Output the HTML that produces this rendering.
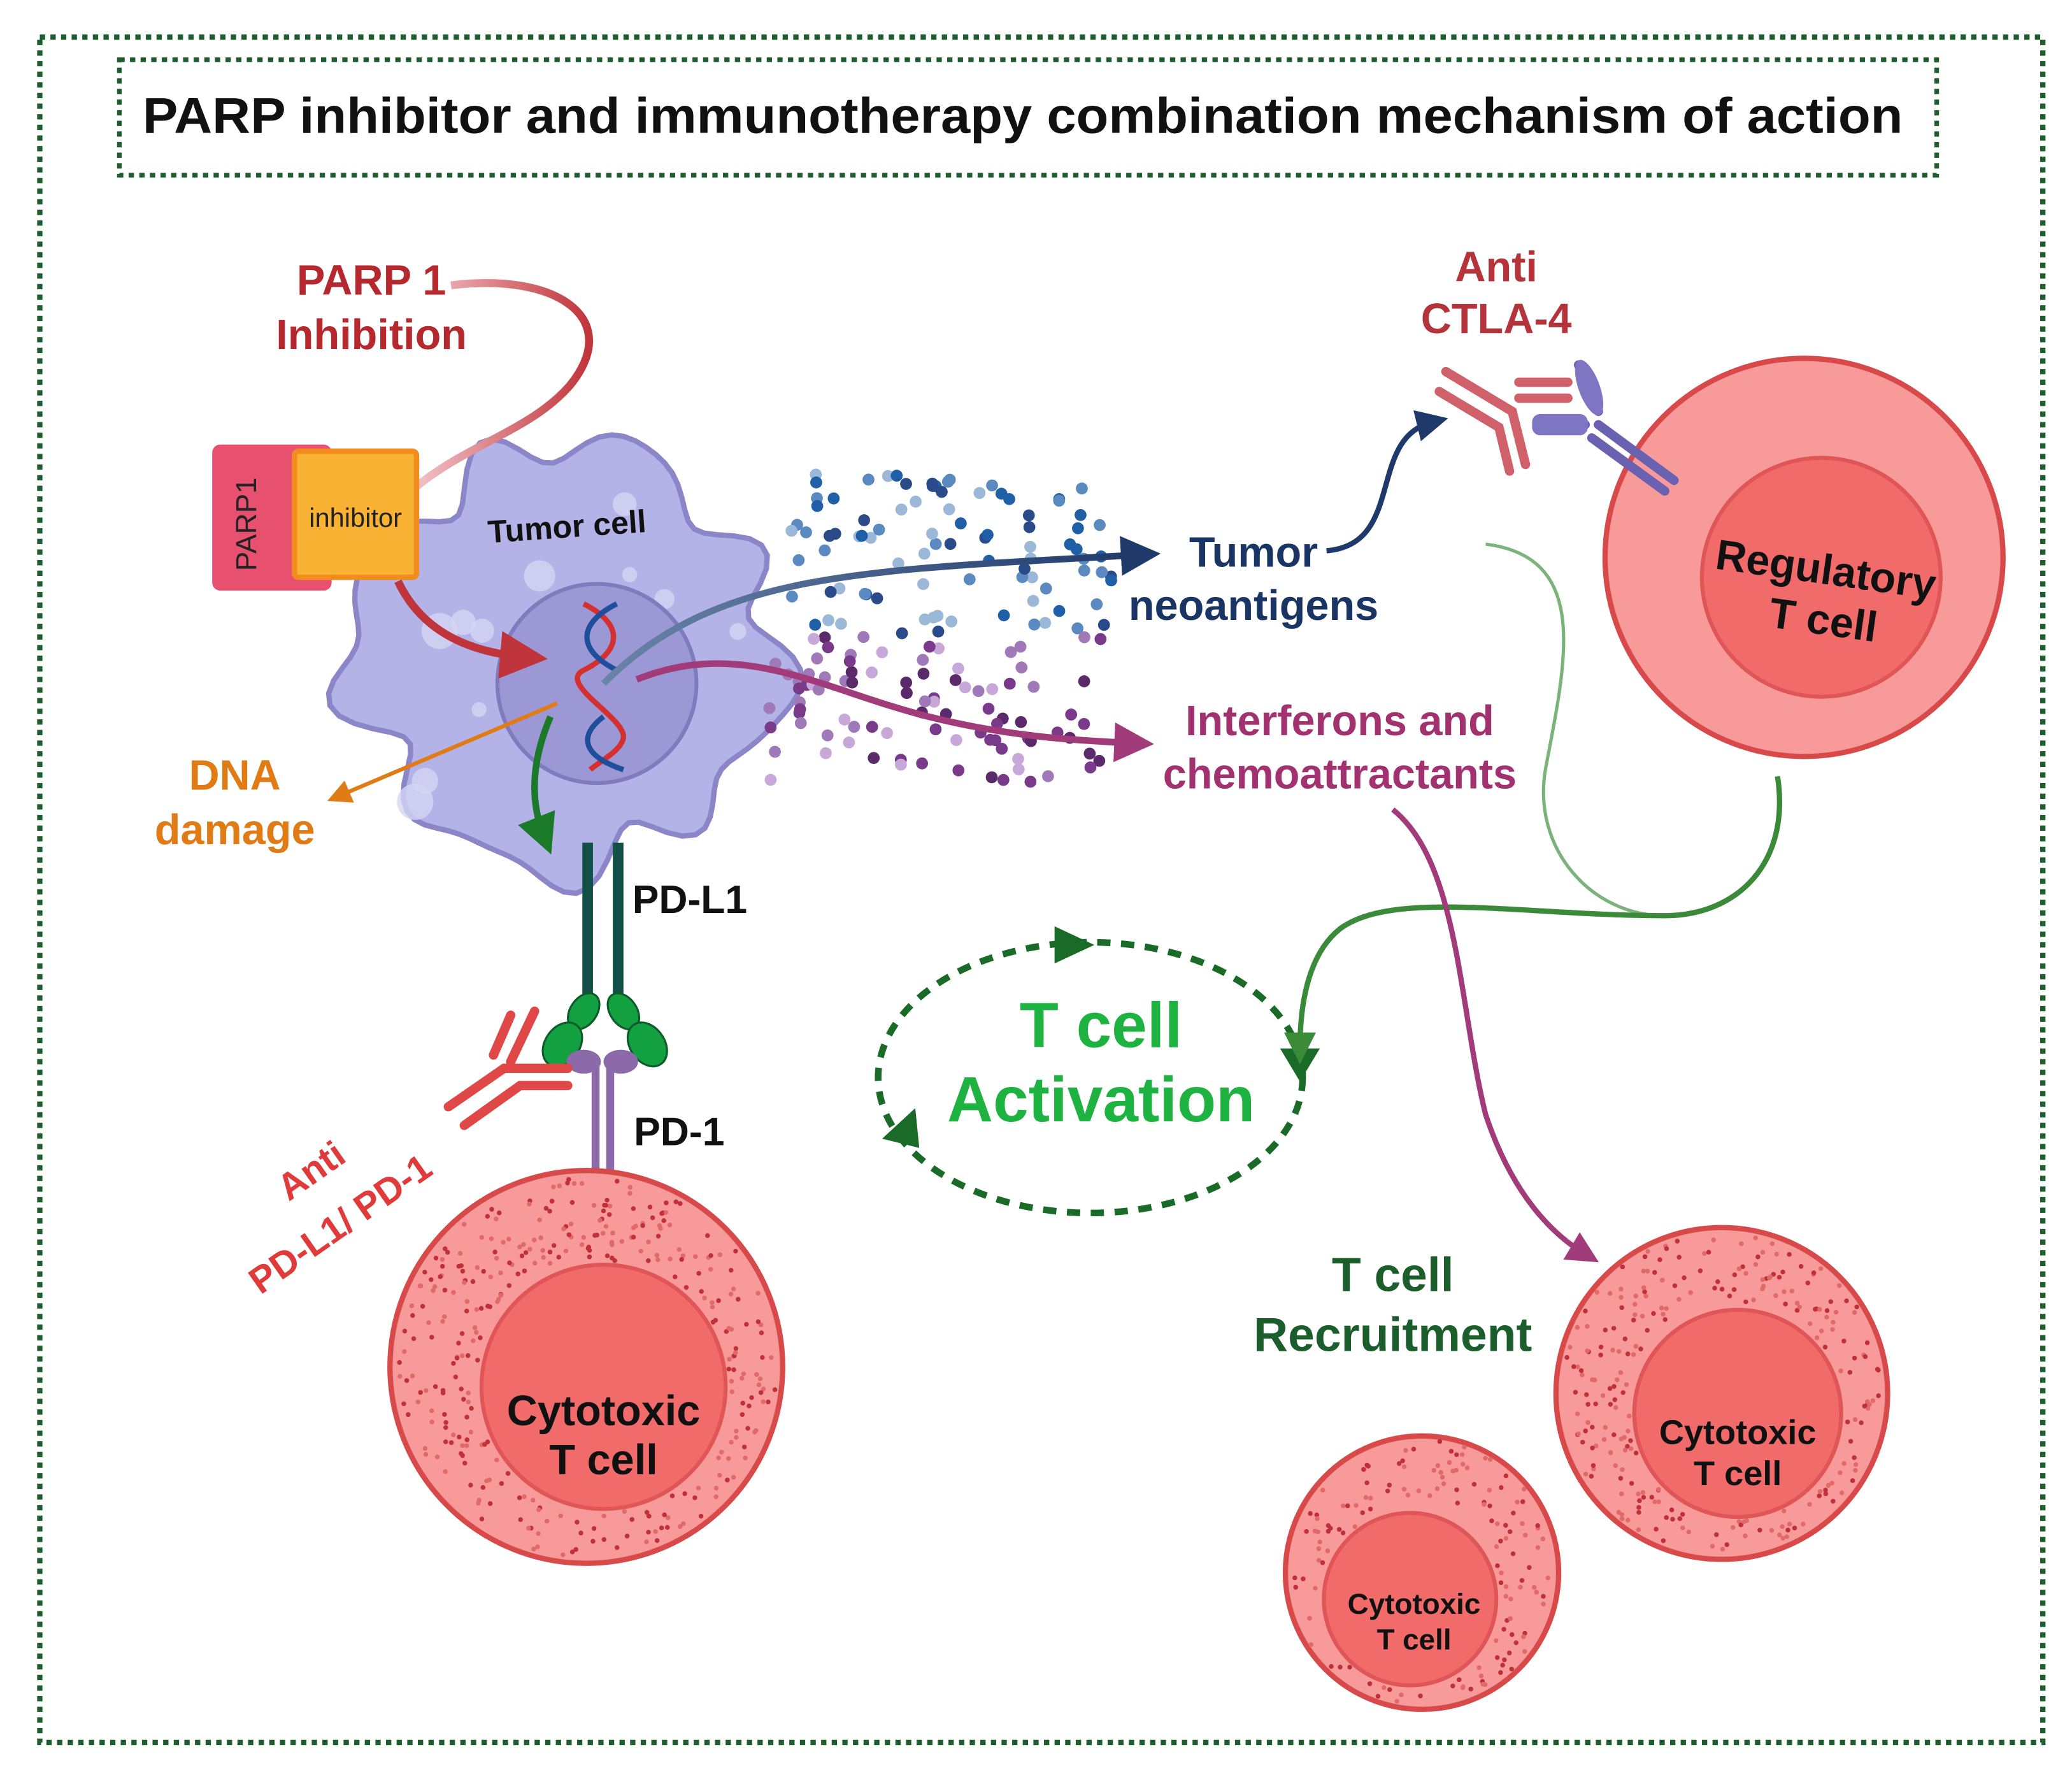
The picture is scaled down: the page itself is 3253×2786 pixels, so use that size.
<!DOCTYPE html>
<html><head><meta charset="utf-8"><style>
html,body{margin:0;padding:0;background:#fff;}
svg{display:block;}
text{font-family:"Liberation Sans",sans-serif;font-weight:bold;text-anchor:middle;}
</style></head><body>
<svg id="s" width="3253" height="2786" viewBox="0 0 1562 1337.5" preserveAspectRatio="none" xmlns="http://www.w3.org/2000/svg">
<defs>
<linearGradient id="gP" x1="0" y1="0" x2="1" y2="0"><stop offset="0" stop-color="#f3c7cb"/><stop offset="1" stop-color="#c0353b"/></linearGradient>
<linearGradient id="gB" x1="0" x2="1"><stop offset="0" stop-color="#6a84a8"/><stop offset="1" stop-color="#1f3a6a"/></linearGradient>
<marker id="aR" markerWidth="6" markerHeight="6" refX="3" refY="3" orient="auto"><path d="M0,0L6,3L0,6z" fill="#c0353b"/></marker>
<marker id="aO" markerWidth="6" markerHeight="6" refX="3" refY="3" orient="auto"><path d="M0,0L6,3L0,6z" fill="#e07b16"/></marker>
<marker id="aG" markerWidth="6" markerHeight="6" refX="3" refY="3" orient="auto"><path d="M0,0L6,3L0,6z" fill="#1a7a2a"/></marker>
<marker id="aB" markerWidth="6" markerHeight="6" refX="3" refY="3" orient="auto"><path d="M0,0L6,3L0,6z" fill="#1f3a6a"/></marker>
<marker id="aM" markerWidth="6" markerHeight="6" refX="3" refY="3" orient="auto"><path d="M0,0L6,3L0,6z" fill="#a23b7a"/></marker>
<marker id="aL" markerWidth="6" markerHeight="6" refX="3" refY="3" orient="auto"><path d="M0,0L6,3L0,6z" fill="#3a8a3a"/></marker>
</defs>
<rect x="30" y="28" width="1510" height="1285" fill="none" stroke="#1e5e2e" stroke-width="4" stroke-dasharray="4 4"/>
<rect x="90" y="45" width="1370" height="87" fill="none" stroke="#1e5e2e" stroke-width="3.5" stroke-dasharray="4 4"/>
<text x="771" y="100" font-size="38" fill="#111" textLength="1327" lengthAdjust="spacingAndGlyphs">PARP inhibitor and immunotherapy combination mechanism of action</text>

<g id="tumor"></g>
<circle cx="450" cy="515" r="75" fill="#9c98d6" stroke="#7f7bbf" stroke-width="3"/>

<!-- PARP inhibition -->
<text x="280" y="222" font-size="32" fill="#b5282d">PARP 1</text>
<text x="280" y="263" font-size="32" fill="#b5282d">Inhibition</text>
<path d="M340,215 C420,205 470,240 430,290 C400,325 350,335 310,370" fill="none" stroke="url(#gP)" stroke-width="6"/>

<text x="428" y="405" font-size="24" fill="#111" transform="rotate(-4 428 405)">Tumor cell</text>
<!-- DNA -->
<path d="M440,455 C470,470 470,490 440,505 C420,515 470,540 470,555 C470,565 450,575 445,580" fill="none" stroke="#d43030" stroke-width="4"/>
<path d="M465,455 C435,470 435,490 465,505 M455,540 C435,555 440,570 470,580" fill="none" stroke="#1f4f9a" stroke-width="4"/>

<rect x="160" y="335" width="90" height="110" rx="6" fill="#e8506f"/>
<text x="193" y="395" font-size="22" fill="#222" transform="rotate(-90 193 395)" style="font-weight:normal">PARP1</text>
<rect x="222" y="340" width="92" height="95" rx="3" fill="#f9b233" stroke="#f28c1c" stroke-width="4"/>
<text x="268" y="397" font-size="20" fill="#222" style="font-weight:normal">inhibitor</text>
<path d="M300,438 C320,480 360,492 395,495" fill="none" stroke="#c0353b" stroke-width="6" marker-end="url(#aR)"/>

<path d="M420,530 L255,600" fill="none" stroke="#e07b16" stroke-width="3" marker-end="url(#aO)"/>
<text x="177" y="595" font-size="32" fill="#e07b16">DNA</text>
<text x="177" y="636" font-size="32" fill="#e07b16">damage</text>
<path d="M415,540 C400,575 400,605 410,630" fill="none" stroke="#1a7a2a" stroke-width="5" marker-end="url(#aG)"/>

<g id="dots"></g>
<path d="M455,515 C540,430 650,430 860,418" fill="none" stroke="url(#gB)" stroke-width="5" marker-end="url(#aB)"/>
<path d="M480,512 C560,480 620,520 700,540 C760,555 810,558 855,560" fill="none" stroke="#a23b7a" stroke-width="5" marker-end="url(#aM)"/>
<text x="945" y="427" font-size="32" fill="#1a3563">Tumor</text>
<text x="945" y="467" font-size="32" fill="#1a3563">neoantigens</text>
<text x="1010" y="554" font-size="32" fill="#a2316f">Interferons and</text>
<text x="1010" y="594" font-size="32" fill="#a2316f">chemoattractants</text>
<path d="M1000,415 C1060,410 1030,330 1080,318" fill="none" stroke="#1f3a6a" stroke-width="4" marker-end="url(#aB)"/>

<text x="1128" y="212" font-size="32" fill="#b5343b">Anti</text>
<text x="1128" y="251" font-size="32" fill="#b5343b">CTLA-4</text>

<!-- regulatory T cell -->
<circle cx="1360" cy="420" r="150" fill="#f99a9a" stroke="#d84a4a" stroke-width="4"/>
<circle cx="1373" cy="435" r="90" fill="#f26b6b" stroke="#e05555" stroke-width="3"/>
<text x="1375" y="440" font-size="32" fill="#111" transform="rotate(8 1375 440)">Regulatory</text>
<text x="1373" y="478" font-size="32" fill="#111" transform="rotate(8 1373 478)">T cell</text>
<!-- CTLA4 antibodies -->
<g stroke-linecap="round">
<path d="M1190,275 L1205,310 M1160,320 L1195,320 M1205,320 L1262,362 M1200,330 L1255,370" stroke="#6a62b0" stroke-width="7"/>
<ellipse cx="1198" cy="292" rx="8" ry="22" fill="#7f76c3" transform="rotate(-20 1198 292)"/>
<rect x="1155" y="312" width="42" height="16" rx="6" fill="#7f76c3"/>
<path d="M1090,280 L1140,310 L1150,350 M1085,295 L1130,322 L1138,355 M1145,288 L1182,288 M1145,300 L1182,300" stroke="#d0606a" stroke-width="7" fill="none"/>
</g>

<!-- PD-L1 / PD-1 -->
<rect x="439" y="635" width="8" height="125" fill="#124f46"/>
<rect x="462" y="635" width="8" height="125" fill="#124f46"/>
<g fill="#12a040" stroke="#0d5a2a" stroke-width="1.5">
<ellipse cx="440" cy="762" rx="10" ry="15" transform="rotate(35 440 762)"/>
<ellipse cx="424" cy="787" rx="13" ry="18" transform="rotate(35 424 787)"/>
<ellipse cx="470" cy="762" rx="10" ry="15" transform="rotate(-35 470 762)"/>
<ellipse cx="488" cy="787" rx="13" ry="18" transform="rotate(-35 488 787)"/>
</g>
<g fill="#8c6aaa">
<rect x="446" y="800" width="6" height="115" rx="3"/>
<rect x="457" y="800" width="6" height="115" rx="3"/>
<ellipse cx="440" cy="800" rx="13" ry="9"/>
<ellipse cx="468" cy="800" rx="13" ry="9"/>
</g>
<text x="520" y="688" font-size="30" fill="#111">PD-L1</text>
<text x="512" y="863" font-size="30" fill="#111">PD-1</text>
<g stroke="#e04848" stroke-width="7" fill="none" stroke-linecap="round">
<path d="M338,834 L380,805 L428,805 M350,848 L392,818 L428,818"/>
<path d="M385,800 L403,762 M372,795 L385,765"/>
</g>
<text x="240" y="890" font-size="28" fill="#e03a3a" transform="rotate(-35 240 890)">Anti</text>
<text x="262" y="930" font-size="28" fill="#e03a3a" transform="rotate(-35 262 930)">PD-L1/ PD-1</text>

<!-- Cytotoxic cells -->
<circle cx="442" cy="1030" r="148" fill="#f99a9a" stroke="#d84a4a" stroke-width="4"/>
<g id="cdots1"></g>
<circle cx="455" cy="1045" r="92" fill="#f26b6b" stroke="#e05555" stroke-width="3"/>
<text x="455" y="1074" font-size="32" fill="#111">Cytotoxic</text>
<text x="455" y="1111" font-size="32" fill="#111">T cell</text>

<circle cx="1298" cy="1050" r="125" fill="#f99a9a" stroke="#d84a4a" stroke-width="4"/>
<g id="cdots2"></g>
<circle cx="1310" cy="1065" r="78" fill="#f26b6b" stroke="#e05555" stroke-width="3"/>
<text x="1310" y="1088" font-size="26" fill="#111">Cytotoxic</text>
<text x="1310" y="1119" font-size="26" fill="#111">T cell</text>

<circle cx="1072" cy="1185" r="103" fill="#f99a9a" stroke="#d84a4a" stroke-width="4"/>
<g id="cdots3"></g>
<circle cx="1063" cy="1205" r="65" fill="#f26b6b" stroke="#e05555" stroke-width="3"/>
<text x="1066" y="1216" font-size="22" fill="#111">Cytotoxic</text>
<text x="1066" y="1243" font-size="22" fill="#111">T cell</text>

<!-- Activation -->
<ellipse cx="822" cy="812" rx="160" ry="102" fill="none" stroke="#1a6b28" stroke-width="5" stroke-dasharray="10 8"/>
<path d="M795,698 L825,712 L795,726z" fill="#1a6b28"/>
<path d="M965,790 L995,790 L980,815z" fill="#1a6b28"/>
<path d="M690,835 L665,858 L693,865z" fill="#1a6b28"/>
<text x="830" y="789" font-size="48" fill="#1eb341">T cell</text>
<text x="830" y="845" font-size="48" fill="#1eb341">Activation</text>

<path d="M1120,410 C1200,420 1180,500 1165,580 C1155,640 1200,690 1255,690" fill="none" stroke="#5aa05a" stroke-width="2.5" opacity="0.8"/>
<path d="M1340,585 C1350,650 1310,690 1255,690 C1150,690 1050,670 1010,700 C985,720 980,760 980,790" fill="none" stroke="#3a8a3a" stroke-width="4" marker-end="url(#aL)"/>
<path d="M1050,610 C1100,650 1100,760 1120,840 C1140,900 1170,930 1195,945" fill="none" stroke="#a23b7a" stroke-width="4" marker-end="url(#aM)"/>
<text x="1050" y="973" font-size="36" fill="#1b5e2c">T cell</text>
<text x="1050" y="1018" font-size="36" fill="#1b5e2c">Recruitment</text>
</svg>
<script>
(function(){
var NS="http://www.w3.org/2000/svg";
function el(p,t,a){var e=document.createElementNS(NS,t);for(var k in a)e.setAttribute(k,a[k]);p.appendChild(e);return e;}
var seed=7;function r(){seed=(seed*9301+49297)%233280;return seed/233280;}
var pts=[];for(var i=0;i<=120;i++){var t=i/120*Math.PI*2;var rr=160+14*Math.sin(9*t)+8*Math.sin(4*t+1)+6*Math.cos(13*t);pts.push((425+rr*Math.cos(t)).toFixed(1)+","+(495+rr*0.98*Math.sin(t)).toFixed(1));}
var g=document.getElementById("tumor");
el(g,"path",{d:"M"+pts.join("L")+"Z",fill:"#b3b3e8",stroke:"#8b86c8","stroke-width":4});
for(var i=0;i<14;i++){el(g,"circle",{cx:300+r()*260,cy:360+r()*260,r:4+r()*10,fill:"#d4d4f3",opacity:0.8});}
var d=document.getElementById("dots");
var bl=["#1f5fa8","#5a8ac0","#9cb8d8","#2a4a8a"],pu=["#7a3a8a","#a07ab8","#c8a8d8","#5a2a6a"];
for(var i=0;i<90;i++){el(d,"circle",{cx:595+r()*245,cy:355+r()*125,r:4.5,fill:bl[Math.floor(r()*4)]});}
for(var i=0;i<90;i++){el(d,"circle",{cx:580+r()*250,cy:480+r()*110,r:4.5,fill:pu[Math.floor(r()*4)]});}
function cd(id,cx,cy,R,ri,icx,icy,n){var g=document.getElementById(id);for(var i=0;i<n;i++){var a=r()*Math.PI*2,rad=R*(0.55+r()*0.42);var x=cx+rad*Math.cos(a),y=cy+rad*Math.sin(a);if(Math.hypot(x-icx,y-icy)<ri+3)continue;el(g,"circle",{cx:x,cy:y,r:1.8,fill:r()<0.5?"#c0303a":"#e06a6a"});}}
cd("cdots1",442,1030,148,92,455,1045,450);
cd("cdots2",1298,1050,125,78,1310,1065,300);
cd("cdots3",1072,1185,103,65,1063,1205,200);
})();
</script>
</body></html>
